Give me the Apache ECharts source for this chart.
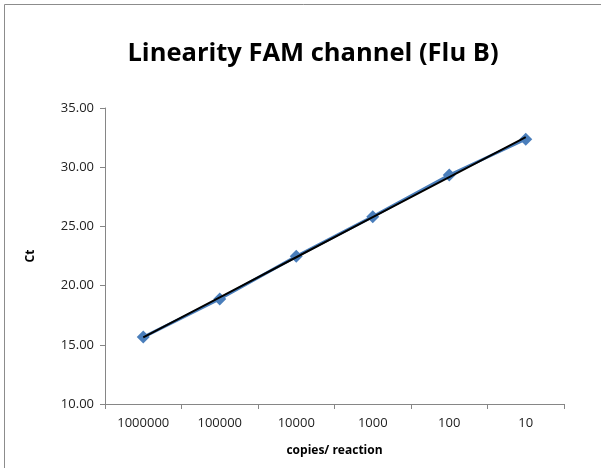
<!DOCTYPE html>
<html>
<head>
<meta charset="utf-8">
<script src="https://cdn.jsdelivr.net/npm/echarts@6/dist/echarts.min.js"></script>
<style>
  html, body { margin: 0; padding: 0; background: #fff; }
  #chart { width: 601px; height: 468px; }
</style>
</head>
<body>
<div id="chart"></div>
<script>
// copies per reaction (categories, left to right)
var categories = ['1000000', '100000', '10000', '1000', '100', '10'];
// Ct values
var ctValues = [15.65, 18.87, 22.47, 25.82, 29.34, 32.36];
var yTicks = { min: 10, max: 35, interval: 5 };

// linear trendline (least squares over category index)
function linearFit(ys) {
  var n = ys.length, sx = 0, sy = 0, sxy = 0, sxx = 0;
  for (var i = 0; i < n; i++) {
    sx += i; sy += ys[i]; sxy += i * ys[i]; sxx += i * i;
  }
  var slope = (n * sxy - sx * sy) / (n * sxx - sx * sx);
  var icpt = (sy - slope * sx) / n;
  return ys.map(function (_, i) { return +(icpt + slope * i).toFixed(3); });
}
var trend = linearFit(ctValues);

var font = '"Open Sans", "Noto Sans", sans-serif';
var chart = echarts.init(document.getElementById('chart'));
chart.setOption({
  animation: false,
  title: {
    text: 'Linearity FAM channel (Flu B)',
    left: 308,
    textAlign: 'center',
    top: 36,
    textStyle: { fontFamily: font, fontSize: 25.5, fontWeight: 'bold', color: '#000' }
  },
  graphic: [{
    type: 'rect',
    shape: { x: 4.5, y: 4.5, width: 620, height: 480 },
    style: { fill: 'none', stroke: '#8c8c8c', lineWidth: 1 },
    silent: true
  }],
  grid: { left: 105, top: 108, right: 37, bottom: 64 },
  xAxis: {
    type: 'category',
    data: categories,
    boundaryGap: true,
    name: 'copies/ reaction',
    nameLocation: 'middle',
    nameGap: 41,
    nameTextStyle: { fontFamily: font, fontSize: 12, fontWeight: 'bold', color: '#000' },
    axisLine: { lineStyle: { color: '#868686', width: 1 } },
    axisTick: { show: true, length: 5, lineStyle: { color: '#868686' } },
    axisLabel: { fontFamily: font, fontSize: 13, color: '#222', margin: 13 },
    splitLine: { show: false }
  },
  yAxis: {
    type: 'value',
    min: yTicks.min,
    max: yTicks.max,
    interval: yTicks.interval,
    name: 'Ct',
    nameLocation: 'middle',
    nameGap: 68,
    nameRotate: 90,
    nameTextStyle: { fontFamily: font, fontSize: 12, fontWeight: 'bold', color: '#000' },
    axisLine: { show: true, lineStyle: { color: '#868686', width: 1 } },
    axisTick: { show: true, length: 5, lineStyle: { color: '#868686' } },
    axisLabel: {
      fontFamily: font, fontSize: 13, color: '#222', margin: 11,
      formatter: function (v) { return v.toFixed(2); }
    },
    splitLine: { show: false }
  },
  series: [
    {
      name: 'Ct',
      type: 'line',
      data: ctValues,
      symbol: 'diamond',
      symbolSize: 13,
      itemStyle: { color: '#4a7ebb' },
      lineStyle: { color: '#4a7ebb', width: 3 },
      z: 2
    },
    {
      name: 'Linear',
      type: 'line',
      data: trend,
      symbol: 'none',
      lineStyle: { color: '#000', width: 2 },
      z: 3
    }
  ]
});
</script>
</body>
</html>
